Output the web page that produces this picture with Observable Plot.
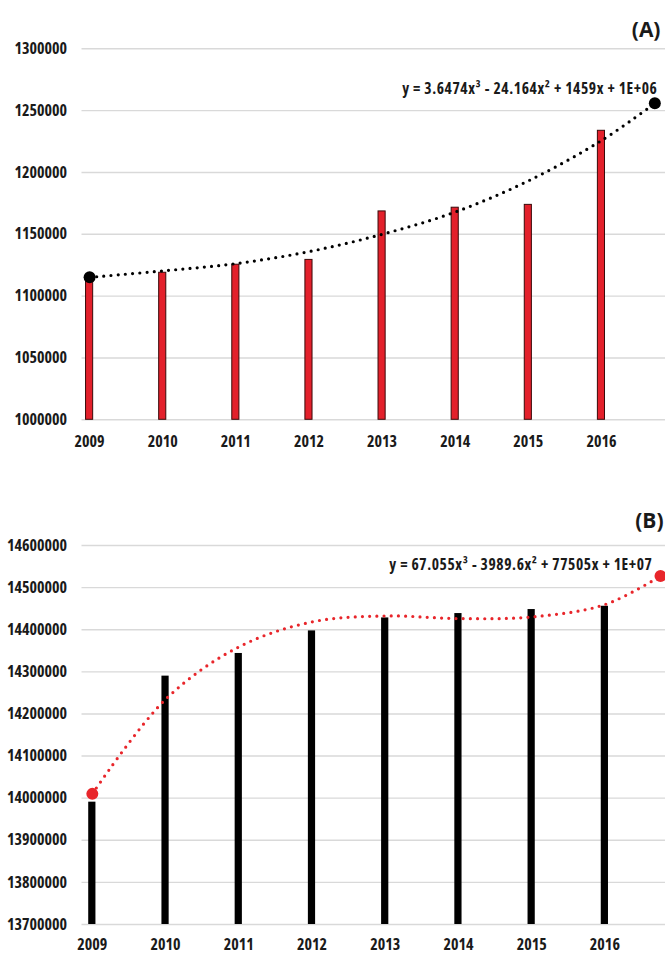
<!DOCTYPE html>
<html>
<head>
<meta charset="utf-8">
<script src="https://cdn.jsdelivr.net/npm/d3@7"></script>
<script src="https://cdn.jsdelivr.net/npm/@observablehq/plot@0.6"></script>
<style>
  html, body { margin: 0; padding: 0; background: #fff; }
  #wrap svg { display: block; font-stretch: 75%; }
  #wrap svg text { font-stretch: 75%; }
</style>
</head>
<body>
<div id="wrap"></div>
<script>
// ---------- data ----------
const years = [2009, 2010, 2011, 2012, 2013, 2014, 2015, 2016];

// Panel A
const valuesA = [1114000, 1118900, 1125400, 1129300, 1168500, 1171500, 1173800, 1233700];
const trendYearsA = [2009, 2010, 2011, 2012, 2013, 2014, 2015, 2016, 2016.73];
const trendA = [1115200, 1120400, 1126300, 1136000, 1150000, 1168000, 1193200, 1225800, 1255900];
const yTicksA = [1000000, 1050000, 1100000, 1150000, 1200000, 1250000, 1300000];
const panelLabelA = "(A)";
const equationA = "y = 3.6474x³ - 24.164x² + 1459x + 1E+06";

// Panel B
const valuesB = [13990500, 14289800, 14343600, 14397200, 14428000, 14438400, 14447900, 14455700];
const trendYearsB = [2009, 2010, 2011, 2012, 2013, 2014, 2015, 2016, 2016.76];
const trendB = [14010200, 14234600, 14359000, 14418500, 14432700, 14426500, 14430300, 14459700, 14527500];
const yTicksB = [13700000, 13800000, 13900000, 14000000, 14100000, 14200000, 14300000, 14400000, 14500000, 14600000];
const panelLabelB = "(B)";
const equationB = "y = 67.055x³ - 3989.6x² + 77505x + 1E+07";

// ---------- drawing ----------
const FONT = "'Open Sans', 'DejaVu Sans Condensed', sans-serif";
const INK = "#1a1a1a";

function panel(cfg) {
  const bars = years.map((y, i) => ({year: y, value: cfg.values[i]}));
  const trend = cfg.trendYears.map((y, i) => ({year: y, value: cfg.trend[i]}));
  const ends = [trend[0], trend[trend.length - 1]];
  const yMin = cfg.yTicks[0];
  const svg = Plot.plot({
    width: 665,
    height: cfg.height,
    marginLeft: 81.5,
    marginRight: 0,
    marginTop: cfg.marginTop,
    marginBottom: cfg.marginBottom,
    style: {fontFamily: FONT, fontSize: "16px", fontWeight: "bold", color: INK, background: "#fff"},
    x: {type: "linear", domain: cfg.xDomain},
    y: {domain: [yMin, cfg.yTicks[cfg.yTicks.length - 1]]},
    marks: [
      Plot.gridY(cfg.yTicks, {stroke: "#d9d9d9", strokeOpacity: 1, strokeWidth: 1.4}),
      Plot.axisY({ticks: cfg.yTicks, tickSize: 0, tickPadding: 15, tickFormat: d => String(d), label: null}),
      Plot.axisX({ticks: years, tickSize: 0, tickPadding: cfg.xPad, tickFormat: d => String(d), label: null}),
      Plot.rectY(bars, {
        x1: d => d.year - 0.5, x2: d => d.year + 0.5,
        y1: yMin, y2: "value",
        insetLeft: 33, insetRight: 33,
        fill: cfg.barFill, stroke: cfg.barStroke, strokeWidth: cfg.barStrokeWidth
      }),
      Plot.line(trend, {
        x: "year", y: "value", curve: "catmull-rom",
        stroke: cfg.trendColor, strokeWidth: 3.2,
        strokeDasharray: "0 7.2", strokeLinecap: "round"
      }),
      Plot.dot(ends, {x: "year", y: "value", r: 6, fill: cfg.trendColor, stroke: "none"}),
      Plot.text([cfg.equation], {
        frameAnchor: "top-right", textAnchor: "end",
        dx: cfg.eqDx, dy: cfg.eqDy, fontSize: 15.5, fontWeight: "bold", fill: INK
      }),
      Plot.text([cfg.label], {
        frameAnchor: "top-right", textAnchor: "end",
        dx: cfg.labelDx, dy: cfg.labelDy, fontSize: 21, fontWeight: "bold", fill: INK
      })
    ]
  });
  d3.select(svg).selectAll("text")
    .filter(function() { return this.textContent === cfg.equation; })
    .style("letter-spacing", "0.6px");
  d3.select(svg).selectAll("text")
    .filter(function() { return this.textContent === cfg.label; })
    .style("font-stretch", "100%");
  return svg;
}

const wrap = document.getElementById("wrap");
wrap.appendChild(panel({
  height: 470, marginTop: 48.3, marginBottom: 50.7, xPad: 15.5,
  xDomain: [2008.896, 2016.876],
  values: valuesA, trendYears: trendYearsA, trend: trendA, yTicks: yTicksA,
  barFill: "#e3202b", barStroke: "#3a0a0a", barStrokeWidth: 1,
  trendColor: "#000000",
  equation: equationA, eqDx: -8, eqDy: 34.4,
  label: panelLabelA, labelDx: -5, labelDy: -27
}));
wrap.appendChild(panel({
  height: 485, marginTop: 75, marginBottom: 31, xPad: 14.5,
  xDomain: [2008.859, 2016.828],
  values: valuesB, trendYears: trendYearsB, trend: trendB, yTicks: yTicksB,
  barFill: "#000000", barStroke: "none", barStrokeWidth: 0,
  trendColor: "#e8262b",
  equation: equationB, eqDx: -13, eqDy: 13.3,
  label: panelLabelB, labelDx: -2, labelDy: -32
}));
</script>
</body>
</html>
